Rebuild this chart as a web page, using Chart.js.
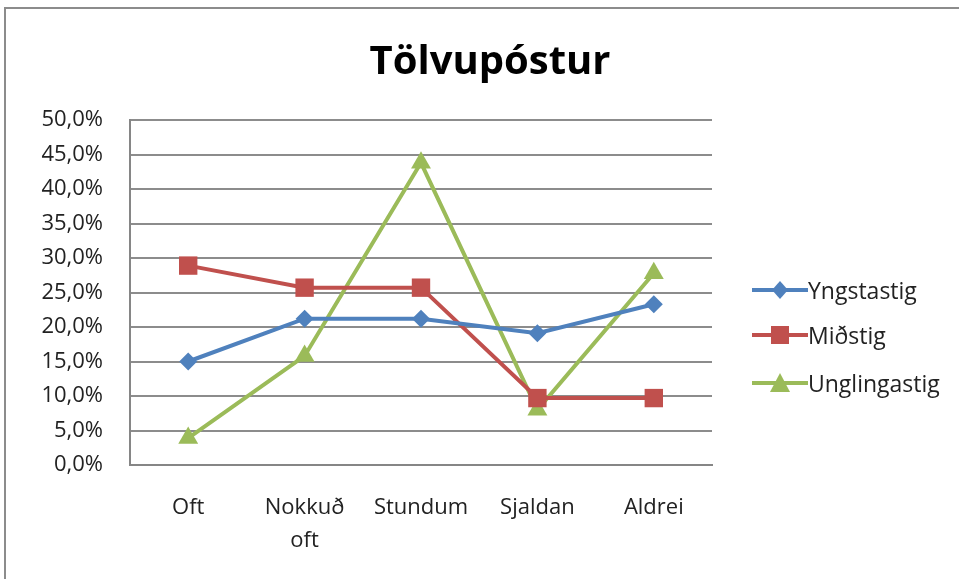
<!DOCTYPE html>
<html>
<head>
<meta charset="utf-8">
<script src="https://cdn.jsdelivr.net/npm/chart.js@4.4.0/dist/chart.umd.min.js"></script>
<style>
  html, body { margin: 0; padding: 0; background: #fff; }
  body { width: 959px; height: 579px; position: relative; overflow: hidden; font-family: "Open Sans", sans-serif; }
  #frame { position: absolute; left: 4px; top: 7px; width: 980px; height: 600px; border: 2px solid #8c8c8c; box-sizing: border-box; }
  #wrap { position: absolute; left: 0; top: 0; width: 959px; height: 579px; }
  #title { position: absolute; left: 0; width: 980px; top: 31px; text-align: center; font-weight: bold; font-size: 40px; color: #000; }
  .leg { position: absolute; left: 752px; display: flex; align-items: center; font-size: 23px; color: #222; }
  .leg svg { margin-right: 0; }
</style>
</head>
<body>
<div id="frame"></div>
<div id="wrap"><canvas id="c" width="959" height="579"></canvas></div>
<div id="title">Tölvupóstur</div>
<div id="legend"></div>
<script>
const categories = ['Oft', ['Nokkuð', 'oft'], 'Stundum', 'Sjaldan', 'Aldrei'];
const seriesNames = ['Yngstastig', 'Miðstig', 'Unglingastig'];
const yngstastig = [15.0, 21.2, 21.2, 19.1, 23.3];
const midstig = [28.9, 25.7, 25.7, 9.7, 9.7];
const unglingastig = [3.9, 15.8, 43.8, 8.0, 27.8];
const colors = ['#4F81BD', '#C0504D', '#9BBB59'];
const markers = ['rectRot', 'rect', 'triangle'];
const markerSizes = [9, 13, 11.5];

const values = [yngstastig, midstig, unglingastig];
const datasets = seriesNames.map((name, i) => ({
  label: name,
  data: values[i],
  borderColor: colors[i],
  backgroundColor: colors[i],
  borderWidth: 4,
  pointStyle: markers[i],
  pointRadius: markerSizes[i],
  pointBorderWidth: 0,
  tension: 0
}));

new Chart(document.getElementById('c'), {
  type: 'line',
  data: { labels: categories, datasets: datasets },
  options: {
    responsive: false,
    animation: false,
    layout: { padding: { top: 120, right: 247, left: 0, bottom: 0 } },
    plugins: { legend: { display: false }, title: { display: false }, tooltip: { enabled: false } },
    scales: {
      x: {
        offset: true,
        grid: { display: false, drawTicks: false },
        border: { display: true, color: '#868686', width: 2 },
        ticks: { padding: 26, color: '#222', font: { family: 'Open Sans', size: 22, lineHeight: 1.5 }, maxRotation: 0 },
        afterFit: s => { s.height = 114; }
      },
      y: {
        min: 0, max: 50,
        grid: { color: '#8c8c8c', lineWidth: 2, drawTicks: false },
        border: { display: true, color: '#868686', width: 2 },
        ticks: {
          stepSize: 5, padding: 27, color: '#222',
          font: { family: 'Open Sans', size: 22 },
          callback: v => v.toFixed(1).replace('.', ',') + '%'
        },
        afterFit: s => { s.width = 130; }
      }
    }
  }
});

// legend: line with marker, built from the series arrays
const legend = document.getElementById('legend');
const legendTops = [291, 336, 384];
seriesNames.forEach((name, i) => {
  let mark = '';
  if (markers[i] === 'rectRot') mark = '<polygon points="28,1 36,10 28,19 20,10" fill="' + colors[i] + '"/>';
  else if (markers[i] === 'rect') mark = '<rect x="19" y="1" width="18" height="18" fill="' + colors[i] + '"/>';
  else mark = '<polygon points="28,0 38,19 18,19" fill="' + colors[i] + '"/>';
  const d = document.createElement('div');
  d.className = 'leg';
  d.style.top = (legendTops[i] - 17) + 'px';
  d.innerHTML = '<svg width="56" height="20"><line x1="0" y1="10" x2="56" y2="10" stroke="' + colors[i] + '" stroke-width="4"/>' + mark + '</svg>' + name;
  legend.appendChild(d);
});
</script>
</body>
</html>
